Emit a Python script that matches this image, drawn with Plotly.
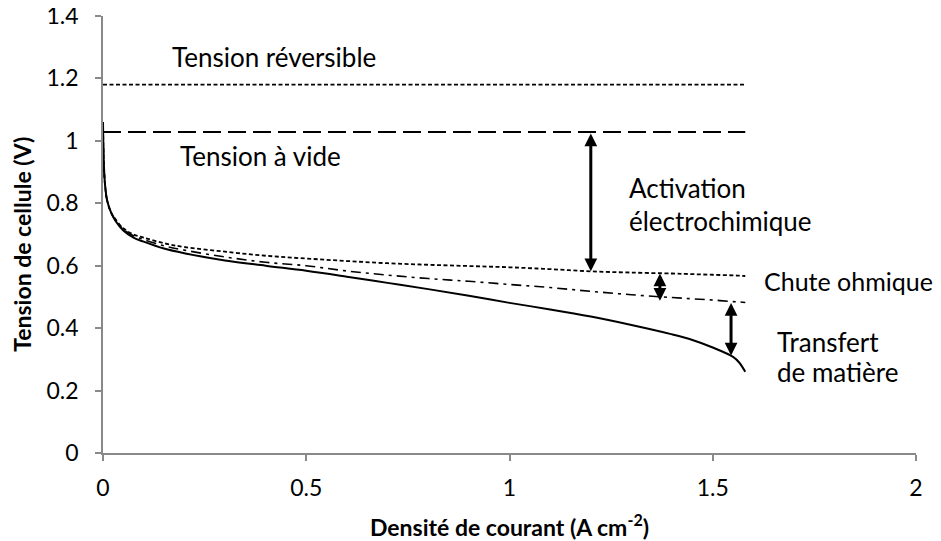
import plotly.graph_objects as go

# Current density (A cm-2)
current = [0, 0.002, 0.005, 0.01, 0.02, 0.03, 0.05, 0.075, 0.1, 0.15, 0.2, 0.3, 0.4,
           0.5, 0.6, 0.7, 0.8, 0.9, 1.0, 1.1, 1.2, 1.3, 1.4, 1.45, 1.5, 1.55, 1.565, 1.58]

# Activation-only curve (dotted)
v_activation = [1.06, 0.93, 0.86, 0.81, 0.77, 0.75, 0.72, 0.70, 0.69, 0.672, 0.66, 0.645, 0.632,
                0.623, 0.615, 0.608, 0.603, 0.599, 0.595, 0.589, 0.582, 0.578, 0.575, 0.573, 0.571, 0.569, 0.568, 0.567]

# Activation + ohmic curve (dash-dot)
v_ohmic = [1.06, 0.93, 0.86, 0.81, 0.77, 0.748, 0.717, 0.696, 0.684, 0.664, 0.65, 0.628, 0.611,
           0.600, 0.583, 0.570, 0.559, 0.550, 0.540, 0.530, 0.518, 0.507, 0.498, 0.494, 0.490, 0.485, 0.484, 0.482]

# Full polarisation curve (solid)
v_cell = [1.06, 0.93, 0.86, 0.81, 0.77, 0.745, 0.713, 0.69, 0.677, 0.655, 0.64, 0.617, 0.600,
          0.584, 0.565, 0.545, 0.525, 0.504, 0.481, 0.46, 0.437, 0.41, 0.38, 0.362, 0.338, 0.308, 0.29, 0.26]

# Reference voltages
x_span = [0, 1.58]
v_reversible = [1.18, 1.18]
v_open = [1.028, 1.028]

# Arrows: x, top, bottom
arrow_x = [1.2, 1.37, 1.545]
arrow_top = [1.028, 0.58, 0.485]
arrow_bottom = [0.582, 0.488, 0.312]

# Labels: text, x, y
label_text = ["Tension réversible", "Tension à vide", "Activation", "électrochimique",
              "Chute ohmique", "Transfert", "de matière"]
label_x = [0.165, 0.184, 1.289, 1.289, 1.622, 1.653, 1.653]
label_y = [1.27, 0.952, 0.849, 0.744, 0.551, 0.356, 0.26]

x_ticks = [0, 0.5, 1, 1.5, 2]
x_tick_text = ["0", "0.5", "1", "1.5", "2"]
y_ticks = [0, 0.2, 0.4, 0.6, 0.8, 1.0, 1.2, 1.4]
y_tick_text = ["0", "0.2", "0.4", "0.6", "0.8", "1", "1.2", "1.4"]

FONT = "Lato"
AXIS_GRAY = "#898989"

fig = go.Figure()
fig.add_trace(go.Scatter(x=x_span, y=v_reversible, mode="lines",
                         line=dict(color="black", width=1.6, dash="4px,2.5px")))
fig.add_trace(go.Scatter(x=x_span, y=v_open, mode="lines",
                         line=dict(color="black", width=2, dash="18px,7px")))
fig.add_trace(go.Scatter(x=current, y=v_activation, mode="lines", line_shape="spline",
                         line=dict(color="black", width=1.8, dash="4px,2.5px")))
fig.add_trace(go.Scatter(x=current, y=v_ohmic, mode="lines", line_shape="spline",
                         line=dict(color="black", width=1.6, dash="10px,5px,3px,5px")))
fig.add_trace(go.Scatter(x=current, y=v_cell, mode="lines", line_shape="spline",
                         line=dict(color="black", width=2)))

annotations = []
for xa, yt, yb in zip(arrow_x, arrow_top, arrow_bottom):
    annotations.append(dict(x=xa, y=yb, ax=xa, ay=yt, xref="x", yref="y", axref="x", ayref="y",
                            text="", showarrow=True, arrowhead=2, arrowsize=0.85, arrowwidth=3,
                            arrowcolor="black", arrowside="end+start",
                            standoff=0, startstandoff=0))
for t, xl, yl in zip(label_text, label_x, label_y):
    annotations.append(dict(x=xl, y=yl, xref="x", yref="y", text=t, showarrow=False,
                            xanchor="left", yanchor="middle",
                            font=dict(family=FONT, size=25 if t == "Chute ohmique" else 26,
                                      color="black")))

annotations.append(dict(x=0.5, y=-0.165, xref="paper", yref="paper",
                        text="<b>Densité de courant (A cm<sup>-2</sup>)</b>", showarrow=False,
                        xanchor="center", yanchor="middle",
                        font=dict(family=FONT, size=23, color="black")))
annotations.append(dict(x=-0.1, y=0.478, xref="paper", yref="paper",
                        text="<b>Tension de cellule (V)</b>", showarrow=False, textangle=-90,
                        xanchor="center", yanchor="middle",
                        font=dict(family=FONT, size=23, color="black")))

# page body has an 8px default margin -> figure sized/offset to compensate
fig.update_layout(
    width=933, height=533,
    margin=dict(l=95, r=25, t=8, b=88, autoexpand=False),
    paper_bgcolor="white", plot_bgcolor="white",
    showlegend=False,
    annotations=annotations,
    font=dict(family=FONT, color="black"),
)
fig.update_xaxes(range=[0, 2], tickvals=x_ticks, ticktext=x_tick_text, automargin=False,
                 showgrid=False, zeroline=False, showline=True, linecolor=AXIS_GRAY, linewidth=1.5,
                 ticks="outside", ticklen=6, tickcolor=AXIS_GRAY, tickwidth=1.5,
                 tickfont=dict(family=FONT, size=23, color="black"), ticklabelstandoff=8,
                 ticklabeloverflow="allow")
fig.update_yaxes(range=[0, 1.4], tickvals=y_ticks, ticktext=y_tick_text, automargin=False,
                 showgrid=False, zeroline=False, showline=True, linecolor=AXIS_GRAY, linewidth=1.5,
                 ticks="outside", ticklen=6, tickcolor=AXIS_GRAY, tickwidth=1.5,
                 tickfont=dict(family=FONT, size=23, color="black"), ticklabelstandoff=12,
                 ticklabeloverflow="allow")

fig.write_html("out.html")
